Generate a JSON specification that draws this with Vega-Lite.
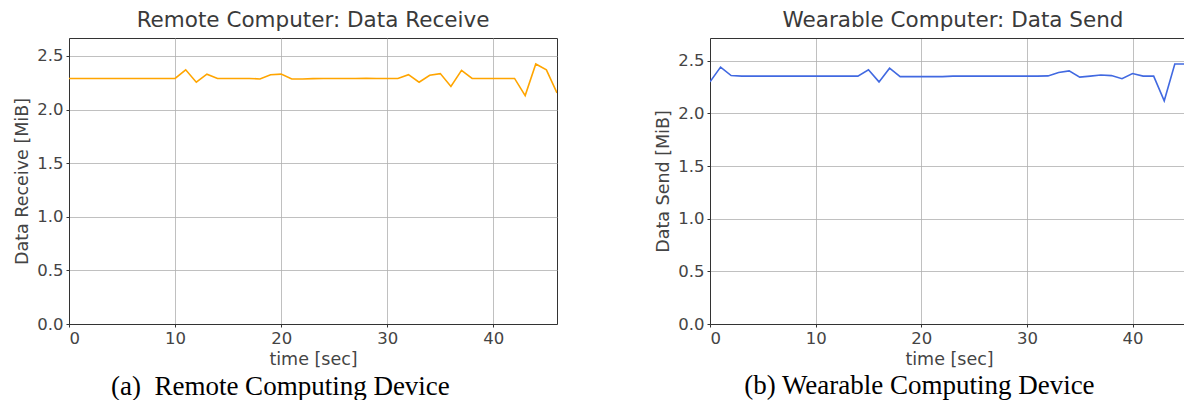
{
  "$schema": "https://vega.github.io/schema/vega-lite/v6.json",
  "background": "white",
  "padding": {"left": 13, "top": 9, "right": 0, "bottom": 0},
  "spacing": 96,
  "config": {
    "font": "DejaVu Sans",
    "view": {"stroke": "#333333", "strokeWidth": 1},
    "axis": {
      "labelFontSize": 16.5, "labelColor": "#444444", "labelPadding": 3,
      "titleFontSize": 17.5, "titleColor": "#444444", "titleFontWeight": "normal",
      "gridColor": "#b0b0b0", "gridWidth": 0.8,
      "domainColor": "#333333", "tickColor": "#333333", "tickSize": 3
    },
    "axisX": {"titlePadding": 4},
    "axisY": {"titlePadding": 5},
    "title": {"fontSize": 21.5, "fontWeight": "normal", "color": "#3a3a3a"}
  },
  "datasets": {
    "recv": [
      {"t": 0, "v": 2.29}, {"t": 1, "v": 2.29}, {"t": 2, "v": 2.29}, {"t": 3, "v": 2.29}, {"t": 4, "v": 2.29},
      {"t": 5, "v": 2.29}, {"t": 6, "v": 2.29}, {"t": 7, "v": 2.29}, {"t": 8, "v": 2.29}, {"t": 9, "v": 2.29},
      {"t": 10, "v": 2.29}, {"t": 11, "v": 2.37}, {"t": 12, "v": 2.255}, {"t": 13, "v": 2.33}, {"t": 14, "v": 2.29},
      {"t": 15, "v": 2.29}, {"t": 16, "v": 2.29}, {"t": 17, "v": 2.29}, {"t": 18, "v": 2.285}, {"t": 19, "v": 2.325},
      {"t": 20, "v": 2.33}, {"t": 21, "v": 2.285}, {"t": 22, "v": 2.285}, {"t": 23, "v": 2.288}, {"t": 24, "v": 2.29},
      {"t": 25, "v": 2.29}, {"t": 26, "v": 2.29}, {"t": 27, "v": 2.29}, {"t": 28, "v": 2.292}, {"t": 29, "v": 2.29},
      {"t": 30, "v": 2.29}, {"t": 31, "v": 2.29}, {"t": 32, "v": 2.325}, {"t": 33, "v": 2.255}, {"t": 34, "v": 2.32},
      {"t": 35, "v": 2.335}, {"t": 36, "v": 2.215}, {"t": 37, "v": 2.365}, {"t": 38, "v": 2.29}, {"t": 39, "v": 2.29},
      {"t": 40, "v": 2.29}, {"t": 41, "v": 2.29}, {"t": 42, "v": 2.29}, {"t": 43, "v": 2.13}, {"t": 44, "v": 2.425},
      {"t": 45, "v": 2.37}, {"t": 46, "v": 2.155}
    ],
    "send": [
      {"t": 0, "v": 2.30}, {"t": 1, "v": 2.44}, {"t": 2, "v": 2.36}, {"t": 3, "v": 2.355}, {"t": 4, "v": 2.355},
      {"t": 5, "v": 2.355}, {"t": 6, "v": 2.355}, {"t": 7, "v": 2.355}, {"t": 8, "v": 2.355}, {"t": 9, "v": 2.355},
      {"t": 10, "v": 2.355}, {"t": 11, "v": 2.355}, {"t": 12, "v": 2.355}, {"t": 13, "v": 2.355}, {"t": 14, "v": 2.355},
      {"t": 15, "v": 2.415}, {"t": 16, "v": 2.30}, {"t": 17, "v": 2.43}, {"t": 18, "v": 2.35}, {"t": 19, "v": 2.35},
      {"t": 20, "v": 2.35}, {"t": 21, "v": 2.35}, {"t": 22, "v": 2.35}, {"t": 23, "v": 2.355}, {"t": 24, "v": 2.355},
      {"t": 25, "v": 2.355}, {"t": 26, "v": 2.355}, {"t": 27, "v": 2.355}, {"t": 28, "v": 2.355}, {"t": 29, "v": 2.355},
      {"t": 30, "v": 2.355}, {"t": 31, "v": 2.355}, {"t": 32, "v": 2.357}, {"t": 33, "v": 2.39}, {"t": 34, "v": 2.405},
      {"t": 35, "v": 2.345}, {"t": 36, "v": 2.355}, {"t": 37, "v": 2.365}, {"t": 38, "v": 2.36}, {"t": 39, "v": 2.33},
      {"t": 40, "v": 2.38}, {"t": 41, "v": 2.355}, {"t": 42, "v": 2.355}, {"t": 43, "v": 2.12}, {"t": 44, "v": 2.47},
      {"t": 45, "v": 2.47}, {"t": 46, "v": 2.1}
    ]
  },
  "hconcat": [
    {
      "title": {"text": "(a)\u00a0 Remote Computing Device", "orient": "bottom", "font": "Liberation Serif", "fontSize": 27, "color": "#000000", "offset": 5, "anchor": "middle", "dx": -5},
      "vconcat": [
        {
          "width": 488, "height": 286,
          "title": {"text": "Remote Computer: Data Receive", "frame": "group", "offset": 7},
          "data": {"name": "recv"},
          "mark": {"type": "line", "color": "#FFA500", "strokeWidth": 1.6, "clip": true},
          "encoding": {
            "x": {"field": "t", "type": "quantitative", "scale": {"domain": [0, 46], "nice": false, "zero": false},
                  "axis": {"values": [0, 10, 20, 30, 40], "format": "d", "title": "time [sec]"}},
            "y": {"field": "v", "type": "quantitative", "scale": {"domain": [0, 2.667], "nice": false},
                  "axis": {"values": [0, 0.5, 1, 1.5, 2, 2.5], "format": ".1f", "title": "Data Receive [MiB]"}}
          }
        }
      ]
    },
    {
      "title": {"text": "(b) Wearable Computing Device", "orient": "bottom", "font": "Liberation Serif", "fontSize": 27, "color": "#000000", "offset": 5, "anchor": "middle", "dx": -2},
      "vconcat": [
        {
          "width": 478, "height": 286,
          "view": {"stroke": null},
          "title": {"text": "Wearable Computer: Data Send", "frame": "group", "offset": 7, "dx": 4},
          "data": {"name": "send"},
          "resolve": {"axis": {"x": "independent"}},
          "encoding": {
            "y": {"field": "v", "type": "quantitative", "scale": {"domain": [0, 2.717], "nice": false},
                  "axis": {"values": [0, 0.5, 1, 1.5, 2, 2.5], "format": ".1f", "title": "Data Send [MiB]"}}
          },
          "layer": [
            {
              "mark": {"type": "line", "color": "#4169E1", "strokeWidth": 1.6, "clip": true},
              "encoding": {
                "x": {"field": "t", "type": "quantitative", "scale": {"domain": [0, 45.25], "nice": false, "zero": false},
                      "axis": {"values": [0, 10, 20, 30, 40], "format": "d", "title": "time [sec]", "orient": "bottom"}}
              }
            },
            {
              "mark": {"type": "line", "opacity": 0, "clip": true},
              "encoding": {
                "x": {"field": "t", "type": "quantitative", "scale": {"domain": [0, 45.25], "nice": false, "zero": false},
                      "axis": {"orient": "top", "labels": false, "ticks": false, "grid": false, "title": null, "domain": true}}
              }
            }
          ]
        }
      ]
    }
  ]
}
